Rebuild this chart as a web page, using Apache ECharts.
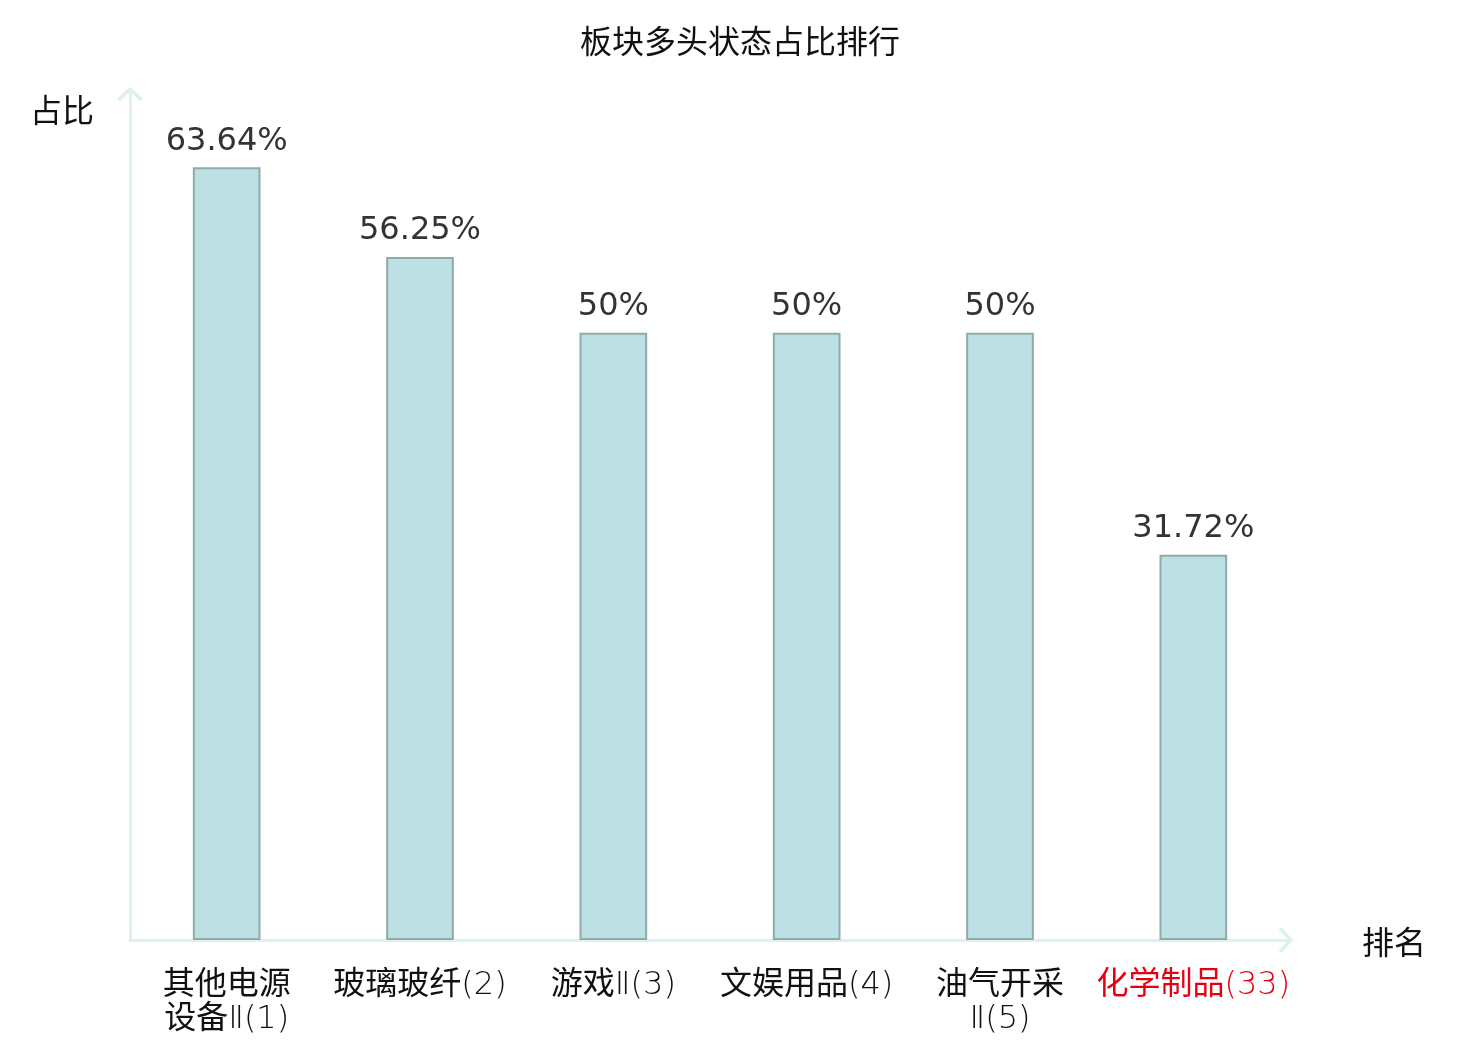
<!DOCTYPE html>
<html>
<head>
    <meta charset="utf-8">
    <title>板块多头状态占比排行</title>
    <script src="https://cdn.jsdelivr.net/npm/echarts@6/dist/echarts.min.js"></script>
    <style>
        html, body { margin: 0; padding: 0; background: #fff; }
        #chart1 { width: 1480px; height: 1040px; }
    </style>
</head>
<body>
<div id="chart1"></div>
<script type="text/javascript">
    // 板块名称 / 排名 / 多头占比(%)
    var sectorNames = ['其他电源设备Ⅱ', '玻璃玻纤', '游戏Ⅱ', '文娱用品', '油气开采Ⅱ', '化学制品'];
    var sectorRanks = [1, 2, 3, 4, 5, 33];
    var ratioValues = [63.64, 56.25, 50, 50, 50, 31.72];
    var highlightIndex = 5;

    var categories = sectorNames.map(function (name, i) {
        return name + '(' + sectorRanks[i] + ')';
    });

    // 空心箭头(开口 V 形)
    var openArrow = 'path://M0 10 L11 0 L22 10 L19.6 12.4 L11 4.4 L2.4 12.4 Z';
    var labelFont = '"DejaVu Sans", "Noto Sans CJK SC", sans-serif';

    // 中文部分常规粗细，罗马数字与括号部分细体
    function splitLabel(name, rank) {
        var cjk = name.replace('Ⅱ', '');
        var tail = (name.indexOf('Ⅱ') >= 0 ? 'Ⅱ' : '') + '(' + rank + ')';
        return { cjk: cjk, tail: tail };
    }

    var myChart1 = echarts.init(document.getElementById('chart1'));

    myChart1.setOption({
        animation: false,
        title: {
            text: '板块多头状态占比排行',
            left: 'center',
            top: 24,
            textStyle: { fontSize: 32, fontWeight: 'normal', color: '#111', fontFamily: labelFont }
        },
        grid: { left: 130, right: 190, top: 90, bottom: 100 },
        xAxis: {
            type: 'category',
            data: categories,
            name: '{n|排名}',
            nameGap: 72,
            nameTextStyle: {
                fontSize: 32, color: '#111', fontFamily: labelFont,
                rich: { n: { fontSize: 32, color: '#111', fontFamily: labelFont, padding: [12, 0, 0, 0] } }
            },
            axisLine: {
                lineStyle: { color: '#dff1ee', width: 3 },
                symbol: ['none', openArrow],
                symbolSize: [26, 15],
                symbolOffset: [0, -4]
            },
            axisTick: { show: false },
            axisLabel: {
                interval: 0,
                fontSize: 32,
                fontFamily: labelFont,
                lineHeight: 34,
                margin: 29,
                formatter: function (value, index) {
                    var p = splitLabel(sectorNames[index], sectorRanks[index]);
                    var k = index === highlightIndex ? 'r' : 'n';
                    if (sectorNames[index].length > 4) {
                        return '{' + k + 'c|' + p.cjk.slice(0, 4) + '}\n' +
                            (p.cjk.length > 4 ? '{' + k + 'c|' + p.cjk.slice(4) + '}' : '') +
                            '{' + k + 't|' + p.tail + '}';
                    }
                    return '{' + k + 'c|' + p.cjk + '}{' + k + 't|' + p.tail + '}';
                },
                rich: {
                    nc: { fontSize: 32, lineHeight: 34, color: '#111', fontFamily: labelFont },
                    nt: { fontSize: 32, lineHeight: 34, color: '#111', fontFamily: labelFont, fontWeight: 200 },
                    rc: { fontSize: 32, lineHeight: 34, color: '#e60012', fontFamily: labelFont },
                    rt: { fontSize: 32, lineHeight: 34, color: '#e60012', fontFamily: labelFont, fontWeight: 200 }
                }
            }
        },
        yAxis: {
            type: 'value',
            min: 0,
            max: 70,
            name: '占比',
            nameLocation: 'end',
            nameGap: 0,
            nameTextStyle: {
                fontSize: 32, color: '#111', fontFamily: labelFont,
                align: 'right', verticalAlign: 'top', padding: [8, 36, 0, 0]
            },
            axisLine: {
                show: true,
                lineStyle: { color: '#dff1ee', width: 3 },
                symbol: ['none', openArrow],
                symbolSize: [26, 15],
                symbolOffset: [0, -4]
            },
            axisTick: { show: false },
            axisLabel: { show: false },
            splitLine: { show: false }
        },
        series: [
            {
                name: '多头占比',
                type: 'bar',
                barWidth: '35%',
                data: ratioValues,
                itemStyle: {
                    color: '#bce0e3',
                    borderColor: '#8eaaa9',
                    borderWidth: 2
                },
                label: {
                    show: true,
                    position: 'top',
                    distance: 10,
                    fontSize: 32,
                    fontFamily: labelFont,
                    color: '#333',
                    formatter: '{c}%'
                }
            }
        ]
    });
</script>
</body>
</html>
